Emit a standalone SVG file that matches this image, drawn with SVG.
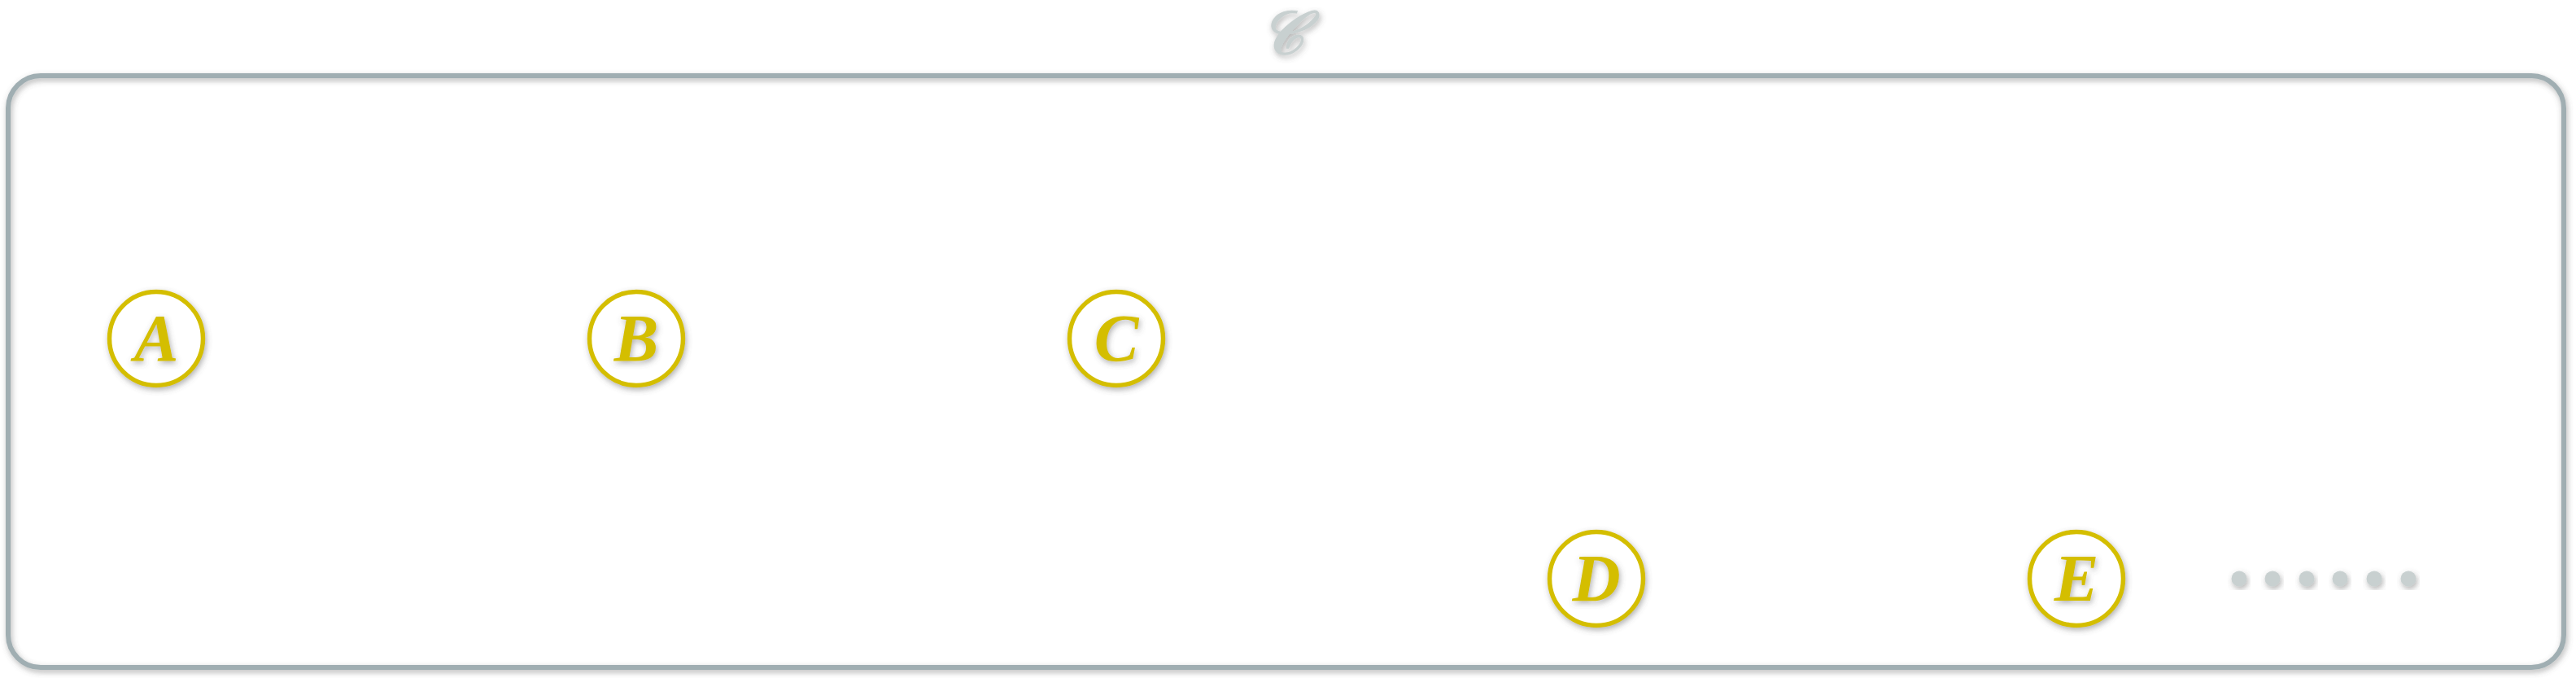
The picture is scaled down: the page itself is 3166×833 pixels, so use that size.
<svg xmlns="http://www.w3.org/2000/svg" width="3166" height="833" viewBox="0 0 3166 833">
<defs>
<filter id="sh" x="-20%" y="-20%" width="140%" height="140%">
<feDropShadow dx="1.5" dy="3" stdDeviation="3.5" flood-color="#555" flood-opacity="0.45"/>
</filter>
<style>
.ring{fill:#fff;stroke:#d4be00;stroke-width:5.5;filter:url(#sh)}
.lbl{font-family:"Liberation Serif","DejaVu Serif",serif;font-style:italic;font-weight:bold;font-size:82px;fill:#d4be00;text-anchor:middle;filter:url(#sh)}
.dot{fill:#c8d0d0;filter:url(#sh)}
</style>
</defs>
<rect width="3166" height="833" fill="#fff"/>
<g id="container">
<rect x="10" y="93" width="3141" height="727" rx="40" ry="40" fill="none" stroke="#a0aeb2" stroke-width="6" filter="url(#sh)"/>
<text x="1576" y="66" font-family="'Liberation Serif','DejaVu Serif',serif" font-style="italic" font-weight="bold" font-size="74" fill="#c8d0d0" text-anchor="middle" filter="url(#sh)">𝒞</text>
</g>
<g id="connectors"></g>
<g id="node-A"><circle class="ring" cx="192" cy="416" r="57.5"/><text class="lbl" x="192" y="443">A</text></g>
<g id="node-B"><circle class="ring" cx="782" cy="416" r="57.5"/><text class="lbl" x="782" y="443">B</text></g>
<g id="node-C"><circle class="ring" cx="1372" cy="416" r="57.5"/><text class="lbl" x="1372" y="443">C</text></g>
<g id="node-D"><circle class="ring" cx="1962" cy="711" r="57.5"/><text class="lbl" x="1962" y="738">D</text></g>
<g id="node-E"><circle class="ring" cx="2552" cy="711" r="57.5"/><text class="lbl" x="2552" y="738">E</text></g>
<g id="ellipsis">
<circle class="dot" cx="2752" cy="711" r="9.5"/>
<circle class="dot" cx="2793" cy="711" r="9.5"/>
<circle class="dot" cx="2835" cy="711" r="9.5"/>
<circle class="dot" cx="2876" cy="711" r="9.5"/>
<circle class="dot" cx="2918" cy="711" r="9.5"/>
<circle class="dot" cx="2960" cy="711" r="9.5"/>
</g>
</svg>
